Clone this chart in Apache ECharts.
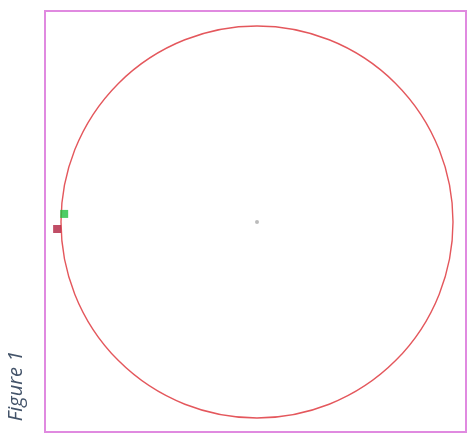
<!DOCTYPE html>
<html>
<head>
<meta charset="utf-8">
<style>html,body{margin:0;padding:0;background:#fff;}#c{width:467px;height:435px;}</style>
<script src="https://cdn.jsdelivr.net/npm/echarts@6/dist/echarts.min.js"></script>
</head>
<body>
<div id="c"></div>
<script>
// Data (polar: [radius, angle in degrees, counter-clockwise from +x])
const circleRadius = 196;
const greenPoints = [[193, 177.6]];
const redPoints = [[200, 182.0]];
const centerPoints = [[0, 0]];
const figureLabel = 'Figure 1';

const chart = echarts.init(document.getElementById('c'), null, {renderer: 'canvas'});
chart.setOption({
  animation: false,
  backgroundColor: '#ffffff',
  grid: {left: 45, top: 11, right: 1, bottom: 3, show: true, borderColor: '#e08ae0', borderWidth: 2, backgroundColor: 'transparent'},
  xAxis: {type: 'value', show: false, min: 0, max: 1},
  yAxis: {type: 'value', show: false, min: 0, max: 1},
  polar: {center: [257, 222], radius: circleRadius},
  angleAxis: {
    type: 'value', min: 0, max: 360, startAngle: 0, clockwise: false,
    axisLine: {show: true, lineStyle: {color: '#e4575c', width: 1.4}},
    axisTick: {show: false}, axisLabel: {show: false}, splitLine: {show: false}
  },
  radiusAxis: {
    type: 'value', min: 0, max: circleRadius,
    axisLine: {show: false}, axisTick: {show: false}, axisLabel: {show: false}, splitLine: {show: false}
  },
  series: [
    {type: 'scatter', coordinateSystem: 'polar', clip: false, data: greenPoints,
     symbol: 'rect', symbolSize: 8, itemStyle: {color: '#22c040'}},
    {type: 'scatter', coordinateSystem: 'polar', clip: false, data: redPoints,
     symbol: 'rect', symbolSize: 8, itemStyle: {color: '#b02040'}},
    {type: 'scatter', coordinateSystem: 'polar', clip: false, data: centerPoints,
     symbol: 'circle', symbolSize: 4, itemStyle: {color: '#aaaaaa'}}
  ],
  graphic: [{
    type: 'text', x: 16, y: 386, rotation: Math.PI / 2,
    style: {text: figureLabel, fill: '#44546a', font: 'italic 20px "Open Sans", "Liberation Sans", sans-serif',
            align: 'center', verticalAlign: 'middle'}
  }]
});
</script>
</body>
</html>
